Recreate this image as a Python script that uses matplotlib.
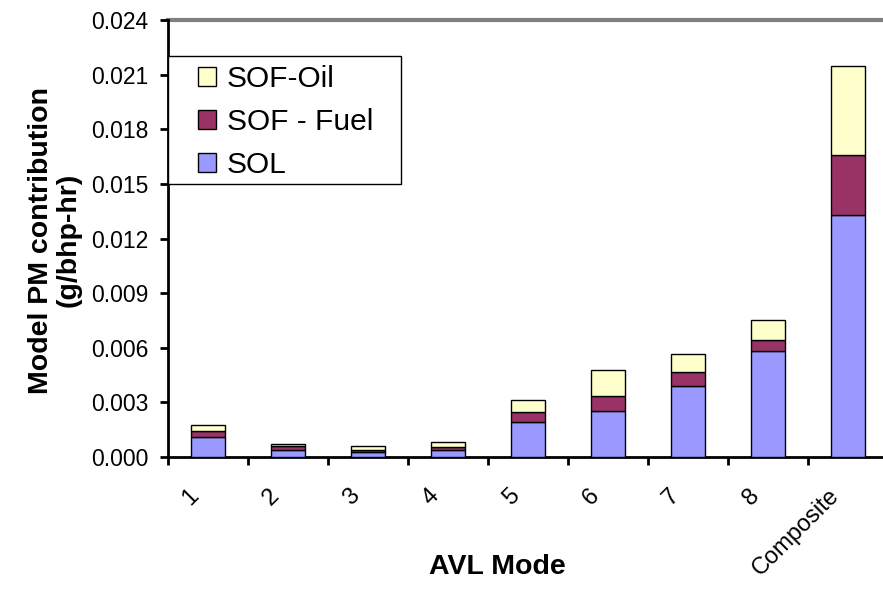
"""
Stacked bar chart of model PM contribution per AVL mode
"""

import matplotlib
matplotlib.use('Agg')
import matplotlib.pyplot as plt
from matplotlib.patches import Patch, Rectangle
from matplotlib.transforms import ScaledTranslation

# Data (g/bhp-hr)
modes = ['1', '2', '3', '4', '5', '6', '7', '8', 'Composite']
sol = [0.0011, 0.0004, 0.0003, 0.0004, 0.0019, 0.0025, 0.0039, 0.0058, 0.0133]
sof_fuel = [0.00035, 0.00018, 0.0001, 0.00014, 0.00055, 0.00087, 0.00076, 0.0006, 0.0033]
sof_oil = [0.0003, 0.00011, 0.0002, 0.00029, 0.0007, 0.0014, 0.001, 0.0011, 0.0049]
y_ticks = [0.0, 0.003, 0.006, 0.009, 0.012, 0.015, 0.018, 0.021, 0.024]

COL_SOL = '#9999FF'
COL_FUEL = '#993366'
COL_OIL = '#FFFFCC'


def main():
    plt.rcParams['font.family'] = ['Liberation Sans', 'DejaVu Sans']

    fig = plt.figure(figsize=(8.83, 5.9), dpi=100)
    W, H = 883.0, 590.0
    ax = fig.add_axes([168 / W, 1 - 457 / H, 720 / W, 437 / H])

    x = list(range(len(modes)))
    bottom2 = [a + b for a, b in zip(sol, sof_fuel)]
    kw = dict(width=0.42, edgecolor='black', linewidth=1.0, zorder=3)
    ax.bar(x, sol, color=COL_SOL, **kw)
    ax.bar(x, sof_fuel, bottom=sol, color=COL_FUEL, **kw)
    ax.bar(x, sof_oil, bottom=bottom2, color=COL_OIL, **kw)

    ax.set_xlim(-0.5, len(modes) - 0.5)
    ax.set_ylim(0, 0.024)

    # top grey line
    ax.axhline(0.024, color='#808080', linewidth=3, zorder=1, clip_on=False)

    for s in ['top', 'right']:
        ax.spines[s].set_visible(False)
    ax.spines['left'].set_linewidth(2)
    ax.spines['bottom'].set_linewidth(2)

    ax.set_yticks(y_ticks)
    ax.set_yticklabels(['%.3f' % v for v in y_ticks])
    ax.tick_params(axis='y', direction='out', length=6, width=2,
                   labelsize=16.5, pad=8)

    # tick marks between categories, labels at category centres
    ax.set_xticks([i - 0.5 for i in range(len(modes) + 1)])
    ax.set_xticklabels([])
    ax.tick_params(axis='x', which='major', direction='out', length=6, width=2)
    ax.set_xticks(x, minor=True)
    ax.set_xticklabels(modes, minor=True, rotation=45, ha='right', va='top',
                       rotation_mode='anchor')
    ax.tick_params(axis='x', which='minor', length=0, labelsize=17, pad=20)
    shift = ScaledTranslation(-0.2, 0, fig.dpi_scale_trans)
    for lab in ax.get_xticklabels(minor=True):
        lab.set_transform(lab.get_transform() + shift)

    # axis titles
    fig.text(497 / W, 1 - 567 / H, 'AVL Mode', fontsize=20.5, fontweight='bold',
             ha='center', va='center')
    fig.text(55 / W, 1 - 240 / H, 'Model PM contribution\n(g/bhp-hr)',
             fontsize=20.5, fontweight='bold', rotation=90,
             ha='center', va='center', multialignment='center',
             linespacing=1.05)

    # legend box
    fig.add_artist(Rectangle((168 / W, 1 - 184 / H), 233 / W, 128 / H,
                             transform=fig.transFigure, facecolor='white',
                             edgecolor='black', linewidth=1, zorder=4))
    handles = [Patch(facecolor=COL_OIL, edgecolor='black', label='SOF-Oil'),
               Patch(facecolor=COL_FUEL, edgecolor='black', label='SOF - Fuel'),
               Patch(facecolor=COL_SOL, edgecolor='black', label='SOL')]
    leg = fig.legend(handles=handles, loc='upper left',
                     bbox_to_anchor=(198 / W, 1 - 65 / H),
                     bbox_transform=fig.transFigure, frameon=False,
                     fontsize=21.5, borderpad=0, borderaxespad=0,
                     handlelength=0.6, handleheight=0.6, handletextpad=0.37,
                     labelspacing=0.5)
    leg.set_zorder(5)

    fig.savefig('out.png', dpi=100)


if __name__ == "__main__":
    main()
